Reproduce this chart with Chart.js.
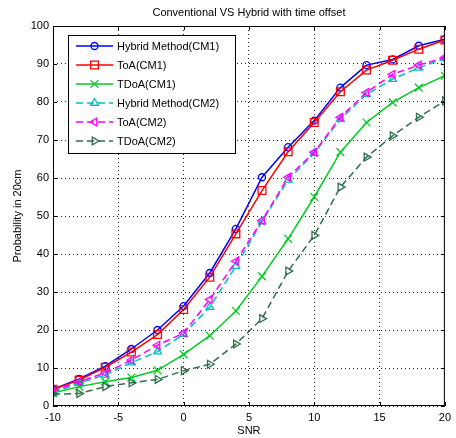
<!DOCTYPE html>
<html>
<head>
<meta charset="utf-8">
<script src="https://cdn.jsdelivr.net/npm/chart.js@4/dist/chart.umd.min.js"></script>
<style>
  body { margin: 0; background: #fff; }
  canvas { display: block; }
</style>
</head>
<body>
<canvas id="myChart" width="456" height="438"></canvas>
<script>
// SNR (x軸)
var snr = [-10, -8, -6, -4, -2, 0, 2, 4, 6, 8, 10, 12, 14, 16, 18, 20];

// 各手法の確率 (%)
var hybridCM1 = [4.4, 7.1, 10.5, 15, 20, 26.3, 35, 46.6, 60.2, 68.1, 75.1, 83.8, 89.7, 91.2, 94.8, 96.5];
var toaCM1    = [4.4, 6.8, 10.2, 14.2, 18.8, 25.4, 33.9, 45.3, 56.7, 66.9, 74.6, 82.7, 88.4, 91.0, 93.9, 96.3];
var tdoaCM1   = [3.4, 5.1, 6.4, 7.5, 9.4, 13.6, 18.5, 25, 34.1, 44, 55, 66.8, 74.6, 79.9, 83.8, 86.9];
var hybridCM2 = [3.5, 6.0, 8.2, 11.4, 14.3, 18.9, 26, 36.8, 48.5, 59.5, 66.5, 75.5, 82, 86, 89, 91.5];
var toaCM2    = [3.9, 6.4, 8.7, 12.1, 16, 19.2, 28, 38.1, 48.8, 60.2, 66.8, 76, 82.5, 87.3, 89.7, 91.7];
var tdoaCM2   = [3.1, 3.3, 5.1, 6.1, 7, 9.3, 11, 16.3, 23, 35.5, 44.9, 57.6, 65.5, 71.1, 76, 80.3];

var seriesNames = ['Hybrid Method(CM1)', 'ToA(CM1)', 'TDoA(CM1)', 'Hybrid Method(CM2)', 'ToA(CM2)', 'TDoA(CM2)'];
var xTicks = [-10, -5, 0, 5, 10, 15, 20];

var FONT = "'Liberation Sans', Arial, sans-serif";

function toPoints(ys) {
  return ys.map(function (y, i) { return { x: snr[i], y: y }; });
}

// 線とマーカーのスタイル
var styles = [
  { color: '#0000ff', dash: [],     marker: 'circle',   rot: 0,   r: 3.5 },
  { color: '#ff0000', dash: [],     marker: 'rect',     rot: 0,   r: 5.5 },
  { color: '#00cc22', dash: [],     marker: 'crossRot', rot: 0,   r: 5.5 },
  { color: '#00bfbf', dash: [7, 4], marker: 'triangle', rot: 0,   r: 4.5 },
  { color: '#ff00ff', dash: [7, 4], marker: 'triangle', rot: -90, r: 4.5 },
  { color: '#2f6f4f', dash: [7, 4], marker: 'triangle', rot: 90,  r: 4.5 }
];
var allData = [hybridCM1, toaCM1, tdoaCM1, hybridCM2, toaCM2, tdoaCM2];

var datasets = allData.map(function (d, i) {
  var s = styles[i];
  return {
    label: seriesNames[i],
    data: toPoints(d),
    borderColor: s.color,
    backgroundColor: s.color,
    borderWidth: 1.5,
    borderDash: s.dash,
    pointStyle: s.marker,
    pointRotation: s.rot,
    pointRadius: s.r,
    pointBorderWidth: 1.3,
    pointBorderColor: s.color,
    pointBackgroundColor: 'rgba(0,0,0,0)',
    tension: 0,
    fill: false,
    order: -i
  };
});

// 枠・内向き目盛・タイトル・凡例
var matlabLook = {
  id: 'matlabLook',
  afterDraw: function (chart) {
    var ctx = chart.ctx;
    var a = chart.chartArea;
    var xs = chart.scales.x, ys = chart.scales.y;
    ctx.save();
    ctx.strokeStyle = '#000';
    ctx.lineWidth = 1;
    ctx.setLineDash([]);
    ctx.strokeRect(a.left + 0.5, a.top + 0.5, a.right - a.left - 1, a.bottom - a.top - 1);
    ctx.beginPath();
    xs.ticks.forEach(function (t) {
      var px = Math.round(xs.getPixelForValue(t.value)) + 0.5;
      ctx.moveTo(px, a.bottom); ctx.lineTo(px, a.bottom - 4);
      ctx.moveTo(px, a.top); ctx.lineTo(px, a.top + 4);
    });
    ys.ticks.forEach(function (t) {
      var py = Math.round(ys.getPixelForValue(t.value)) + 0.5;
      ctx.moveTo(a.left, py); ctx.lineTo(a.left + 4, py);
      ctx.moveTo(a.right, py); ctx.lineTo(a.right - 4, py);
    });
    ctx.stroke();

    // タイトル
    ctx.fillStyle = '#000';
    ctx.font = '11px ' + FONT;
    ctx.textAlign = 'center';
    ctx.textBaseline = 'middle';
    ctx.fillText('Conventional VS Hybrid with time offset', (a.left + a.right) / 2, 13);

    // 凡例
    var bx = 68.5, by = 35.5, bw = 167, bh = 118;
    ctx.fillStyle = '#fff';
    ctx.fillRect(bx, by, bw, bh);
    ctx.strokeStyle = '#000';
    ctx.strokeRect(bx, by, bw, bh);
    chart.data.datasets.forEach(function (ds, i) {
      var y = 46 + i * 19;
      ctx.strokeStyle = ds.borderColor;
      ctx.lineWidth = 1.5;
      ctx.setLineDash(ds.borderDash);
      ctx.beginPath();
      ctx.moveTo(76, y); ctx.lineTo(113, y);
      ctx.stroke();
      ctx.setLineDash([]);
      ctx.lineWidth = 1.3;
      ctx.fillStyle = 'rgba(0,0,0,0)';
      Chart.helpers.drawPoint(ctx, {
        pointStyle: ds.pointStyle,
        rotation: ds.pointRotation,
        radius: ds.pointRadius,
        borderWidth: 1.3
      }, 94.5, y);
      ctx.fillStyle = '#000';
      ctx.font = '11px ' + FONT;
      ctx.textAlign = 'left';
      ctx.fillText(ds.label, 117, y + 0.5);
    });
    ctx.restore();
  }
};

var ctx = document.getElementById('myChart').getContext('2d');
var myChart = new Chart(ctx, {
  type: 'line',
  data: { datasets: datasets },
  plugins: [matlabLook],
  options: {
    responsive: false,
    animation: false,
    devicePixelRatio: 1,
    layout: { padding: { top: 26, right: 3, left: 0, bottom: 0 } },
    plugins: {
      legend: { display: false },
      tooltip: { enabled: false }
    },
    scales: {
      x: {
        type: 'linear',
        min: -10,
        max: 20,
        afterFit: function (s) { s.height = 32; },
        afterBuildTicks: function (s) { s.ticks = xTicks.map(function (v) { return { value: v }; }); },
        ticks: { color: '#000', font: { family: FONT, size: 11 }, padding: 5, maxRotation: 0 },
        grid: { color: '#222', borderDash: [1, 3], drawTicks: false, lineWidth: 1 },
        border: { display: false, dash: [1, 3] },
        title: { display: true, text: 'SNR', color: '#000', font: { family: FONT, size: 11 }, padding: { top: 0, bottom: 0 } }
      },
      y: {
        min: 0,
        max: 100,
        afterFit: function (s) { s.width = 53; },
        ticks: { stepSize: 10, color: '#000', font: { family: FONT, size: 11 }, padding: 4 },
        grid: { color: '#222', drawTicks: false, lineWidth: 1 },
        border: { display: false, dash: [1, 3] },
        title: { display: true, text: 'Probability in 20cm', color: '#000', font: { family: FONT, size: 11 }, padding: { top: 11, bottom: 0 } }
      }
    }
  }
});
</script>
</body>
</html>
